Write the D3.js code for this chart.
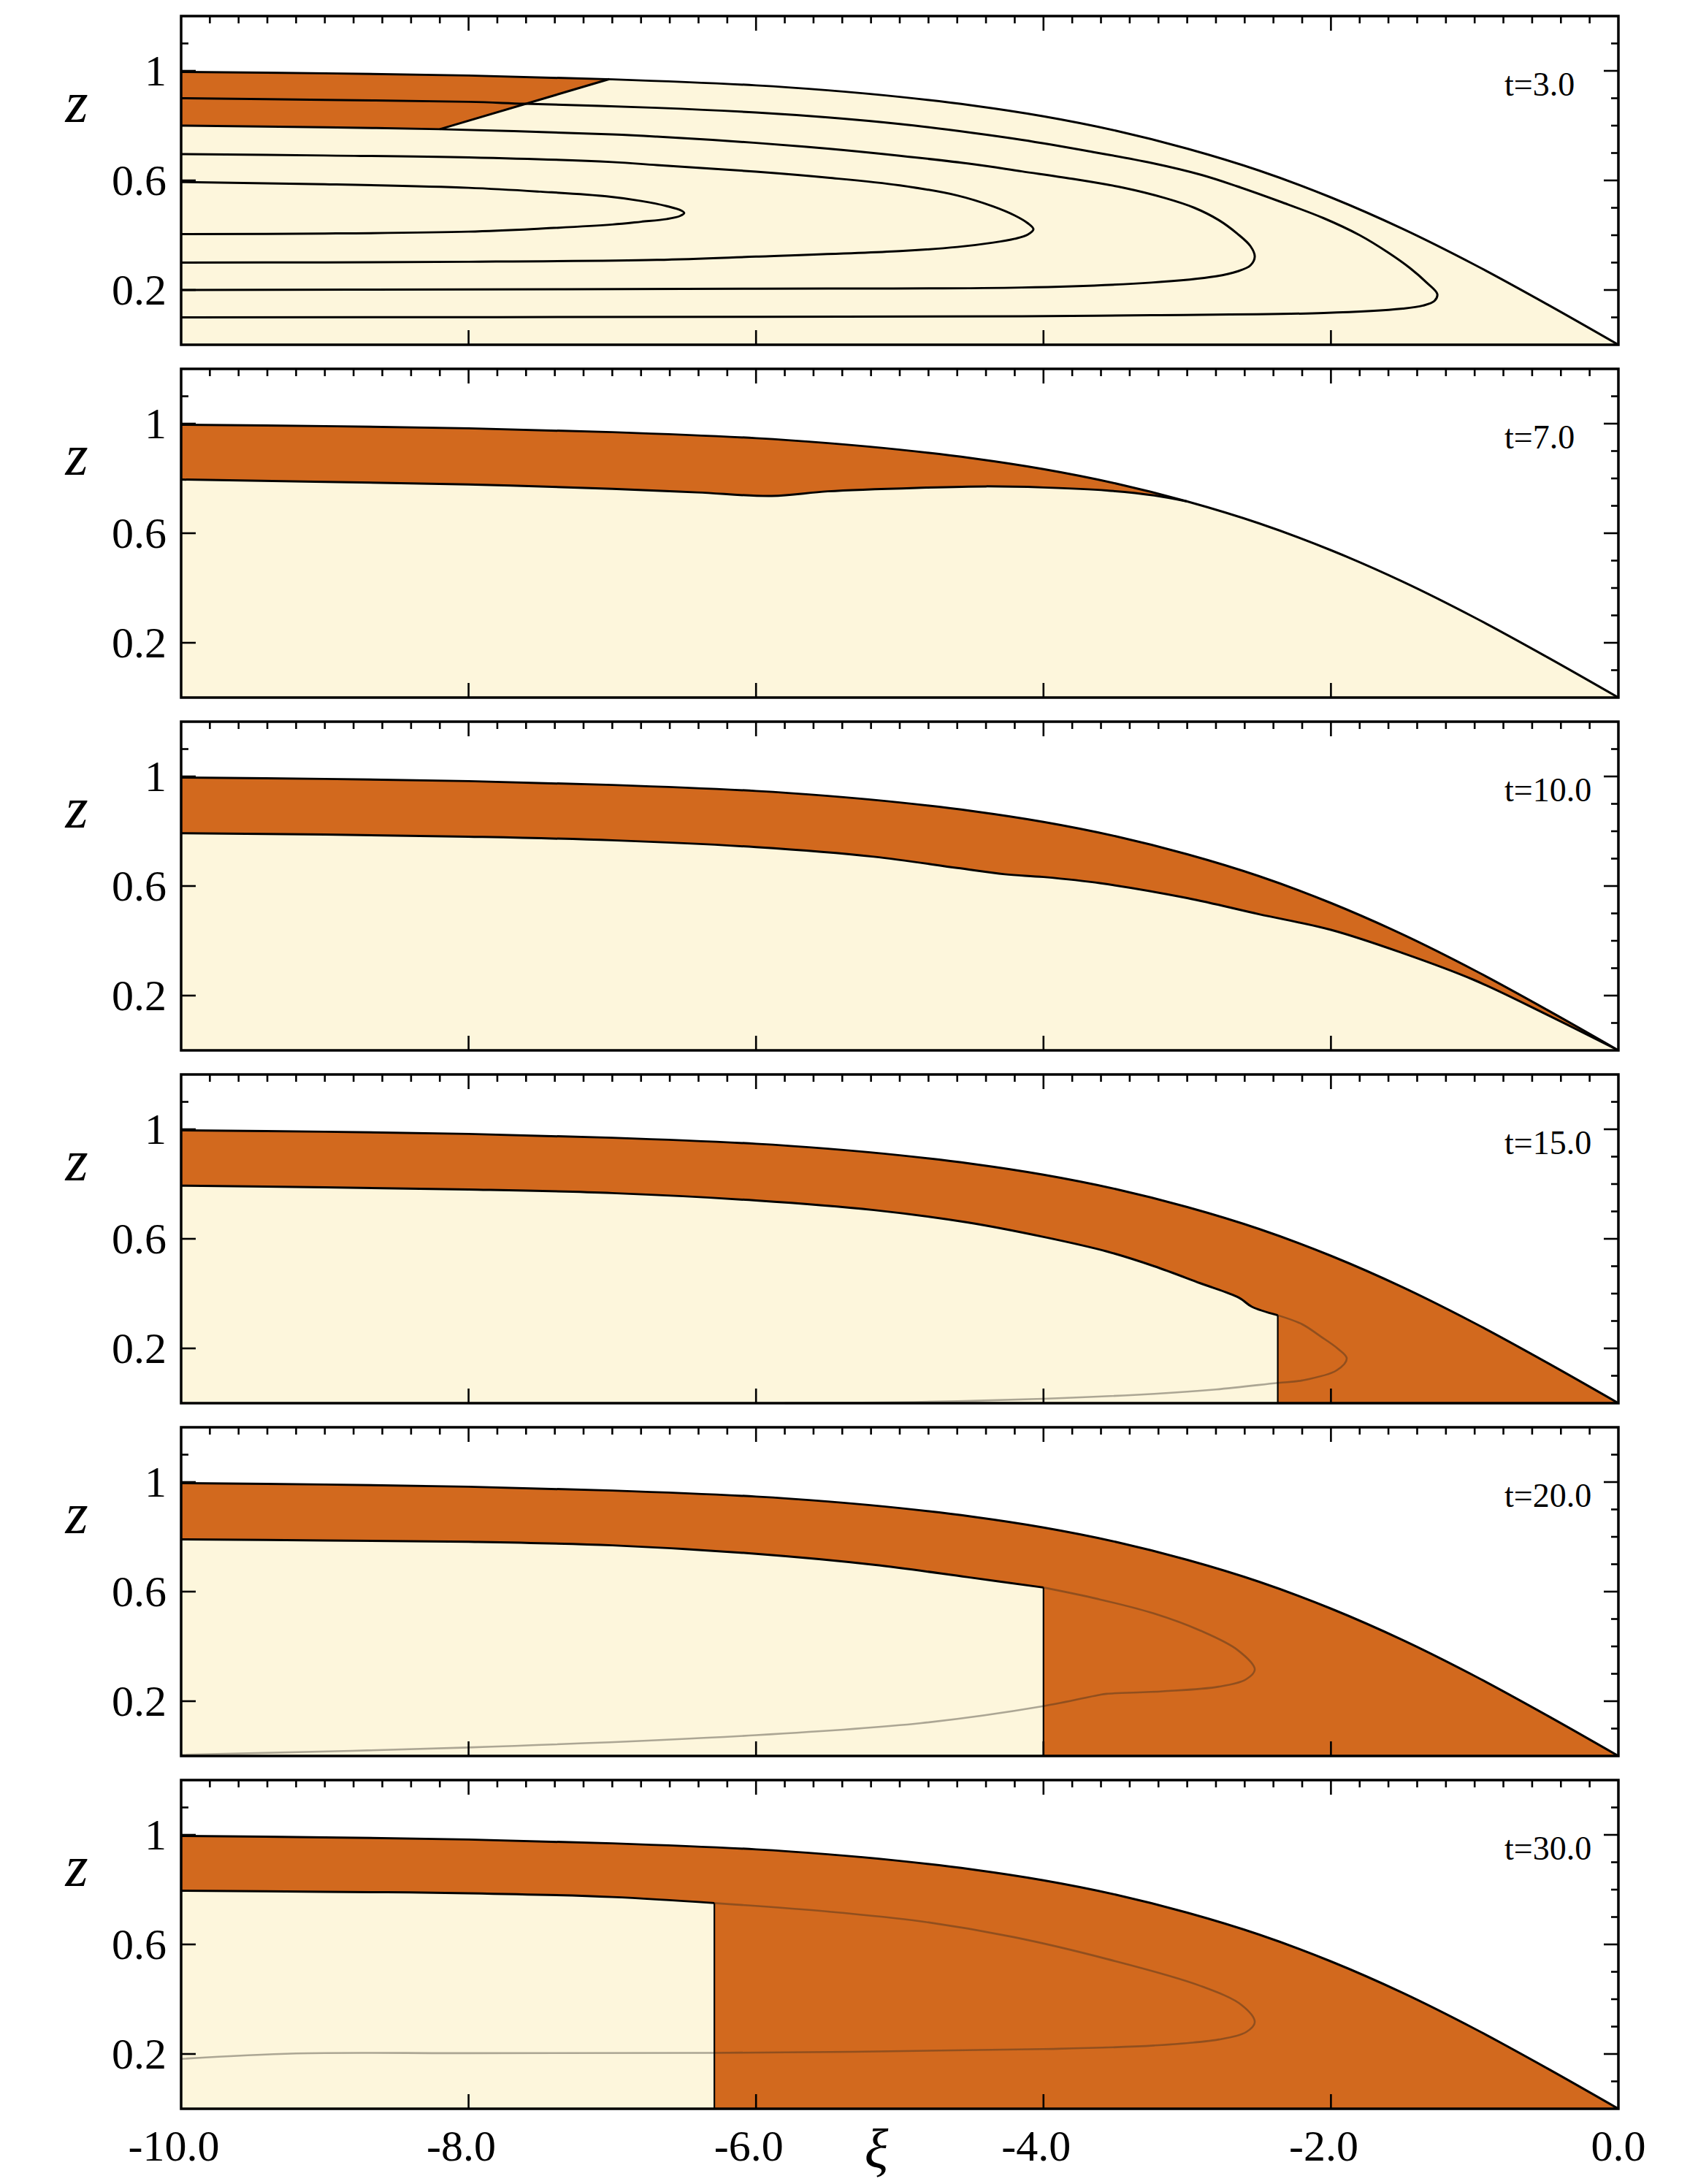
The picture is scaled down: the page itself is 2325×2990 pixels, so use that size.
<!DOCTYPE html>
<html><head><meta charset="utf-8">
<script src="https://cdn.jsdelivr.net/npm/d3@7"></script>
<style>body{margin:0;background:#fff} svg{display:block}</style>
</head><body>
<script>
// ---------------- data ----------------
const timeLabels = ["t=3.0","t=7.0","t=10.0","t=15.0","t=20.0","t=30.0"];
const xiTickValues = [-10,-8,-6,-4,-2,0];
const xiTickLabels = ["-10.0","-8.0","-6.0","-4.0","-2.0","0.0"];
const zTickValues = [0.2,0.6,1.0];
const zTickLabels = ["0.2","0.6","1"];

// free surface (same in every panel)
const surface = [[-10,0.996],[-9,0.991],[-8,0.983],[-7,0.969],[-6,0.947],[-5.5,0.929],[-5,0.905],
  [-4.5,0.874],[-4,0.834],[-3.5,0.782],[-3,0.716],[-2.5,0.636],[-2,0.538],[-1.5,0.423],[-1,0.292],
  [-0.5,0.149],[0,0]];

// t = 3.0 : orange wedge and streamlines
const p1Wedge = [[-10,0.996],[-9,0.991],[-8,0.983],[-7.02,0.970],[-8.20,0.787],[-9,0.794],[-10,0.800]];
const p1Diagonal = [[-7.02,0.970],[-8.20,0.787]];
const loopA = [[-10,0.594],[-9,0.586],[-8,0.573],[-7.5,0.559],[-7.04,0.542],[-6.8,0.525],[-6.62,0.506],
  [-6.52,0.490],[-6.5,0.481],[-6.53,0.470],[-6.62,0.459],[-6.8,0.449],[-7.0,0.439],[-7.5,0.424],[-8,0.413],
  [-9,0.406],[-10,0.404]];
const loopB = [[-10,0.696],[-9,0.691],[-8,0.684],[-7,0.667],[-6.69,0.656],[-6,0.632],[-5.5,0.610],[-5,0.582],
  [-4.6,0.545],[-4.35,0.505],[-4.2,0.472],[-4.11,0.444],[-4.07,0.422],[-4.11,0.402],[-4.2,0.387],[-4.35,0.373],
  [-4.6,0.357],[-5,0.342],[-6,0.322],[-6.69,0.310],[-8,0.303],[-9,0.301],[-10,0.300]];
const loopC = [[-10,0.800],[-9,0.794],[-8.2,0.787],[-7,0.768],[-6.69,0.760],[-6,0.737],[-5.5,0.716],[-5,0.690],
  [-4.5,0.660],[-4.15,0.633],[-3.8,0.606],[-3.45,0.574],[-3.15,0.535],[-2.95,0.500],[-2.78,0.455],[-2.65,0.405],
  [-2.56,0.360],[-2.53,0.322],[-2.56,0.290],[-2.65,0.268],[-2.8,0.250],[-3.25,0.227],[-4.15,0.209],[-6,0.205],
  [-8,0.202],[-10,0.200]];
const loopD = [[-10,0.900],[-9,0.894],[-8,0.887],[-7.61,0.880],[-6.69,0.865],[-6,0.848],[-5.5,0.830],[-5,0.806],
  [-4.5,0.774],[-4.15,0.748],[-3.7,0.708],[-3.25,0.664],[-2.9,0.620],[-2.65,0.578],[-2.35,0.522],[-2.05,0.462],
  [-1.8,0.400],[-1.6,0.336],[-1.45,0.280],[-1.33,0.225],[-1.26,0.185],[-1.28,0.160],[-1.36,0.143],[-1.5,0.132],
  [-2.05,0.116],[-3.25,0.108],[-4.15,0.104],[-6,0.102],[-10,0.100]];

// fronts (lower boundary of the orange layer)
const front2 = [[-10,0.796],[-9.07,0.788],[-8,0.778],[-7,0.762],[-6.41,0.749],[-5.89,0.736],[-5.5,0.753],
  [-4.85,0.766],[-4.4,0.771],[-4,0.767],[-3.56,0.756],[-3.23,0.738],[-3.0,0.716]];
const front3 = [[-10,0.793],[-9,0.788],[-8,0.780],[-7,0.767],[-6,0.742],[-5.18,0.707],[-4.6,0.666],
  [-4.27,0.643],[-4,0.633],[-3.6,0.610],[-3,0.556],[-2.5,0.497],[-2,0.440],[-1.5,0.355],[-1,0.256],
  [-0.5,0.131],[0,0]];
const front4 = [[-10,0.794],[-9,0.788],[-8,0.780],[-7,0.767],[-6,0.740],[-5.18,0.705],[-4.53,0.660],
  [-4,0.607],[-3.56,0.554],[-3.23,0.500],[-2.91,0.438],[-2.64,0.385],[-2.55,0.352],[-2.37,0.321]];
const front5 = [[-10,0.791],[-9,0.787],[-8,0.782],[-7,0.769],[-6,0.738],[-5.18,0.698],[-4.53,0.653],[-4.0,0.615]];
const front6 = [[-10,0.796],[-9,0.792],[-8,0.787],[-7,0.773],[-6.29,0.751]];

// grey streamlines
const grey4 = [[-2.37,0.321],[-2.2,0.288],[-2.07,0.243],[-1.95,0.198],[-1.89,0.163],[-1.96,0.120],[-2.2,0.083],
  [-2.37,0.074],[-2.8,0.050],[-3.23,0.034],[-4.0,0.016],[-4.9,0.004],[-5.8,0.0]];
const grey5 = [[-4.0,0.615],[-3.62,0.573],[-3.23,0.520],[-2.91,0.458],[-2.65,0.387],[-2.53,0.316],[-2.59,0.280],
  [-2.78,0.253],[-3.17,0.236],[-3.56,0.227],[-3.62,0.222],[-4.0,0.182],[-4.85,0.120],[-6,0.076],[-8,0.031],[-10,0.004]];
const grey6 = [[-6.29,0.751],[-5.5,0.720],[-4.85,0.684],[-4.21,0.627],[-3.56,0.547],[-2.91,0.449],[-2.62,0.378],
  [-2.53,0.316],[-2.59,0.280],[-2.78,0.253],[-3.23,0.231],[-4.0,0.218],[-6.29,0.204],[-8,0.203],[-9.2,0.202],[-10,0.182]];

// ---------------- drawing ----------------
const W = 2325, H = 2990;
const ORANGE = "#D2691E", LIGHT = "#FDF6DC";
const FONT = "'Liberation Serif','Times New Roman',Times,serif";
const svg = d3.select("body").append("svg").attr("width", W).attr("height", H);
const x = d3.scaleLinear().domain([-10, 0]).range([248, 2216]);
const panelTops = [22, 505, 988, 1471, 1954, 2437];
const panelH = 450;

const panels = [
  {kind: "wedge", loops: [loopA, loopB, loopC, loopD]},
  {kind: "front", front: front2, drop: false, grey: null},
  {kind: "front", front: front3, drop: false, grey: null},
  {kind: "front", front: front4, drop: true, grey: grey4},
  {kind: "front", front: front5, drop: true, grey: grey5},
  {kind: "front", front: front6, drop: true, grey: grey6}
];

panels.forEach((p, i) => {
  const top = panelTops[i], bot = top + panelH;
  const y = d3.scaleLinear().domain([0, 1.2]).range([bot, top]);
  const g = svg.append("g");
  const smooth = d3.line().x(d => x(d[0])).y(d => y(d[1])).curve(d3.curveCatmullRom.alpha(0.5));
  const straight = d3.line().x(d => x(d[0])).y(d => y(d[1]));

  const x0 = x.range()[0], x1 = x.range()[1];
  const majorX = xiTickValues.filter(v => v > -10 && v < 0);
  const minorX = x.ticks(50).filter(v => v > -10 && v < 0 && !majorX.some(m => Math.abs(m - v) < 1e-6));
  const minorZ = y.ticks(12).filter(v => v > 0 && v < 1.2 && !zTickValues.some(m => Math.abs(m - v) < 1e-6));
  const tick = (sel, data, len, side) => {
    sel.selectAll(null).data(data).enter().append("line")
      .attr("x1", d => side === "l" ? x0 : side === "r" ? x1 : x(d))
      .attr("x2", d => side === "l" ? x0 + len : side === "r" ? x1 - len : x(d))
      .attr("y1", d => side === "t" ? top : side === "b" ? bot : y(d))
      .attr("y2", d => side === "t" ? top + len : side === "b" ? bot - len : y(d))
      .attr("stroke", "#000").attr("stroke-width", 2.6);
  };
  // minor ticks (under the fills)
  const gMinor = g.append("g");
  tick(gMinor, minorX, 10, "t"); tick(gMinor, minorX, 10, "b");
  tick(gMinor, minorZ, 10, "l"); tick(gMinor, minorZ, 10, "r");

  const under = smooth(surface) + `L${x(0)},${y(0)}L${x(-10)},${y(0)}Z`;

  if (p.kind === "wedge") {
    g.append("path").attr("d", under).attr("fill", LIGHT);
    g.append("path").attr("d", straight(p1Wedge) + "Z").attr("fill", ORANGE);
    p.loops.forEach(lp => g.append("path").attr("d", smooth(lp)).attr("fill", "none")
      .attr("stroke", "#000").attr("stroke-width", 3));
    g.append("path").attr("d", straight(p1Diagonal)).attr("fill", "none")
      .attr("stroke", "#000").attr("stroke-width", 3);
  } else {
    g.append("path").attr("d", under).attr("fill", ORANGE);
    const f = p.front, last = f[f.length - 1];
    let d = `M${x(-10)},${y(0)}L${x(f[0][0])},${y(f[0][1])}` + smooth(f).replace(/^M[^CL]*/, "");
    if (p.drop) {
      d += `L${x(last[0])},${y(0)}`;
    } else if (last[1] > 0) {
      const rest = surface.filter(s => s[0] > last[0]);
      d += smooth([last].concat(rest)).replace(/^M[^CL]*/, "");
    }
    d += `L${x(0)},${y(0)}Z`;
    g.append("path").attr("d", d).attr("fill", LIGHT);
    if (p.grey) g.append("path").attr("d", smooth(p.grey)).attr("fill", "none")
      .attr("stroke", "rgba(40,36,32,0.38)").attr("stroke-width", 2.6);
    g.append("path").attr("d", smooth(f)).attr("fill", "none")
      .attr("stroke", "#000").attr("stroke-width", 3);
    if (p.drop) g.append("path").attr("d", straight([last, [last[0], 0]])).attr("fill", "none")
      .attr("stroke", "#000").attr("stroke-width", 2.2);
  }
  // free surface
  g.append("path").attr("d", smooth(surface)).attr("fill", "none")
    .attr("stroke", "#000").attr("stroke-width", 3);

  // major ticks (over the fills)
  tick(g, majorX, 20, "t"); tick(g, majorX, 20, "b");
  tick(g, zTickValues, 20, "l"); tick(g, zTickValues, 20, "r");

  // frame
  g.append("rect").attr("x", x0).attr("y", top).attr("width", x1 - x0).attr("height", panelH)
    .attr("fill", "none").attr("stroke", "#000").attr("stroke-width", 3.5);

  // y tick labels
  g.selectAll(null).data(zTickValues).enter().append("text")
    .attr("x", x0 - 20).attr("y", d => y(d)).attr("dy", "0.34em")
    .attr("text-anchor", "end").attr("font-family", FONT).attr("font-size", 60)
    .text((d, k) => zTickLabels[k]);
  // z axis title
  g.append("text").attr("x", 105).attr("y", top + 145).attr("text-anchor", "middle")
    .attr("font-family", FONT).attr("font-style", "italic").attr("font-size", 80).text("z");
  // time label
  g.append("text").attr("x", 2060).attr("y", top + 109)
    .attr("font-family", FONT).attr("font-size", 46).text(timeLabels[i]);

  if (i === panels.length - 1) {
    g.selectAll(null).data(xiTickValues).enter().append("text")
      .attr("x", d => x(d) - (d < 0 ? 10 : 0)).attr("y", bot + 71)
      .attr("text-anchor", "middle").attr("font-family", FONT).attr("font-size", 60)
      .text((d, k) => xiTickLabels[k]);
    g.append("text").attr("x", 1200).attr("y", 2968).attr("text-anchor", "middle")
      .attr("font-family", FONT).attr("font-style", "italic").attr("font-size", 76).text("ξ");
  }
});
</script>
</body></html>
